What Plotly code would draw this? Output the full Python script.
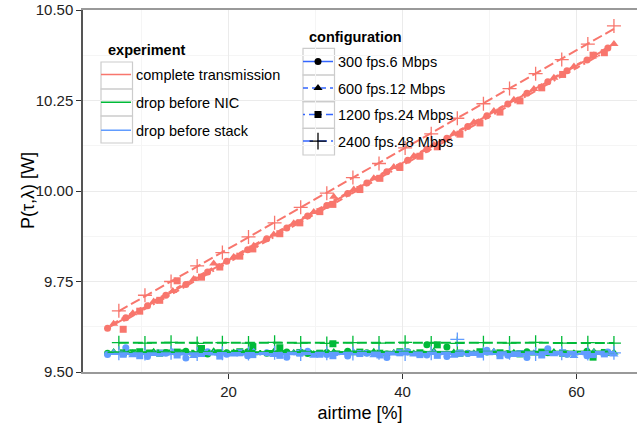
import numpy as np
import plotly.graph_objects as go

# ---------------- data ----------------
experiments = ["complete transmission", "drop before NIC", "drop before stack"]
configs = ["300 fps.6 Mbps", "600 fps.12 Mbps", "1200 fps.24 Mbps", "2400 fps.48 Mbps"]

x300 = [6.1, 8.2, 10.7, 12.8, 15.1, 17.6, 19.8, 22.2, 24.4, 26.7, 29.1, 31.3, 33.7,
        35.9, 38.2, 40.6, 42.8, 45.1, 47.5, 49.7, 52.1, 54.3, 56.7, 58.9, 61.2, 63.6]
red300 = [9.621, 9.650, 9.683, 9.712, 9.742, 9.776, 9.806, 9.838, 9.868, 9.898, 9.931, 9.960, 9.993,
          10.022, 10.053, 10.085, 10.115, 10.146, 10.178, 10.208, 10.240, 10.270, 10.302, 10.332, 10.362, 10.395]
green300 = [9.552, 9.556, 9.551, 9.554, 9.557, 9.550, 9.553, 9.556, 9.552, 9.555, 9.551, 9.554, 9.557,
            9.553, 9.550, 9.556, 9.575, 9.569, 9.552, 9.555, 9.551, 9.556, 9.553, 9.550, 9.557, 9.554]
blue300 = [9.548, 9.567, 9.543, 9.552, 9.539, 9.556, 9.549, 9.545, 9.553, 9.541, 9.557, 9.548, 9.544,
           9.552, 9.540, 9.555, 9.547, 9.543, 9.551, 9.560, 9.546, 9.540, 9.564, 9.549, 9.545, 9.555]

x600 = [6.8, 9.0, 11.4, 13.6, 16.0, 18.3, 20.6, 22.9, 25.2, 27.5, 29.8, 32.1, 34.4,
        36.7, 39.0, 41.3, 43.6, 45.9, 48.2, 50.5, 52.8, 55.1, 57.4, 59.7, 62.0, 64.3]
red600 = [9.633, 9.662, 9.695, 9.724, 9.757, 9.800, 9.818, 9.849, 9.880, 9.911, 9.942, 9.984, 10.004,
          10.035, 10.066, 10.097, 10.128, 10.159, 10.190, 10.221, 10.252, 10.282, 10.313, 10.344, 10.375, 10.406]
green600 = [9.555, 9.552, 9.556, 9.553, 9.551, 9.557, 9.554, 9.552, 9.556, 9.553, 9.550, 9.555, 9.552,
            9.556, 9.553, 9.551, 9.557, 9.554, 9.552, 9.556, 9.553, 9.551, 9.555, 9.552, 9.556, 9.554]
blue600 = [9.553, 9.546, 9.550, 9.555, 9.544, 9.551, 9.548, 9.556, 9.547, 9.552, 9.545, 9.550, 9.554,
           9.546, 9.551, 9.548, 9.553, 9.545, 9.550, 9.556, 9.547, 9.552, 9.549, 9.544, 9.553, 9.548]

x1200 = [7.9, 9.8, 12.1, 14.1, 16.9, 19.0, 21.3, 22.8, 25.9, 28.2, 30.5, 32.0, 35.1,
         37.4, 39.7, 42.0, 44.0, 46.6, 48.9, 51.2, 53.5, 56.0, 58.4, 61.9, 63.2]
red1200 = [9.618, 9.668, 9.698, 9.752, 9.762, 9.790, 9.820, 9.840, 9.882, 9.912, 9.943, 9.963, 10.004,
           10.035, 10.065, 10.096, 10.122, 10.157, 10.188, 10.218, 10.249, 10.285, 10.322, 10.375, 10.382]
green1200 = [9.553, 9.556, 9.552, 9.555, 9.565, 9.553, 9.556, 9.570, 9.567, 9.554, 9.552, 9.578, 9.555,
             9.552, 9.556, 9.553, 9.575, 9.552, 9.556, 9.553, 9.550, 9.555, 9.552, 9.541, 9.554]
blue1200 = [9.549, 9.545, 9.552, 9.547, 9.551, 9.544, 9.553, 9.548, 9.546, 9.552, 9.549, 9.545, 9.551,
            9.547, 9.553, 9.548, 9.546, 9.552, 9.549, 9.545, 9.551, 9.547, 9.553, 9.548, 9.550]

x2400 = [7.4, 10.4, 13.4, 16.4, 19.3, 22.3, 25.3, 28.3, 31.3, 34.3, 37.3, 40.3, 43.3,
         46.3, 49.3, 52.3, 55.3, 58.3, 61.3, 64.3]
red2400 = [9.669, 9.712, 9.750, 9.793, 9.830, 9.873, 9.912, 9.955, 9.994, 10.037, 10.076, 10.119, 10.158,
           10.201, 10.241, 10.283, 10.324, 10.363, 10.406, 10.456]
green2400 = [9.581, 9.580, 9.582, 9.579, 9.581, 9.580, 9.582, 9.580, 9.579, 9.581, 9.580, 9.582, 9.580,
             9.579, 9.581, 9.580, 9.582, 9.580, 9.581, 9.580]
blue2400 = [9.552, 9.551, 9.553, 9.550, 9.552, 9.551, 9.553, 9.550, 9.552, 9.551, 9.553, 9.550, 9.552,
            9.590, 9.551, 9.553, 9.550, 9.552, 9.551, 9.553]

x_values = {configs[0]: x300, configs[1]: x600, configs[2]: x1200, configs[3]: x2400}
y_values = {
    experiments[0]: {configs[0]: red300, configs[1]: red600, configs[2]: red1200, configs[3]: red2400},
    experiments[1]: {configs[0]: green300, configs[1]: green600, configs[2]: green1200, configs[3]: green2400},
    experiments[2]: {configs[0]: blue300, configs[1]: blue600, configs[2]: blue1200, configs[3]: blue2400},
}

# ---------------- styles ----------------
colors = {experiments[0]: "#F8766D", experiments[1]: "#00BA38", experiments[2]: "#619CFF"}
symbols = {configs[0]: "circle", configs[1]: "triangle-up", configs[2]: "square", configs[3]: "cross-thin"}
msizes = {configs[0]: 7, configs[1]: 8, configs[2]: 7, configs[3]: 10}
dashes = {configs[0]: "solid", configs[1]: "5px,4px", configs[2]: "2px,4px,7px,4px", configs[3]: "10px,4px"}

FONT = "Liberation Sans, Arial, Helvetica, sans-serif"
W, H = 637, 426
ML, MR, MT, MB = 83, 0, 10, 54
PW, PH = W - ML - MR, H - MT - MB


def xp(px):
    return (px - ML) / PW


def yp(py):
    return (H - MB - py) / PH


fig = go.Figure()

# points
for exp in experiments:
    for cfg in configs:
        sym = symbols[cfg]
        marker = dict(symbol=sym, size=msizes[cfg], color=colors[exp])
        if sym == "cross-thin":
            marker["line"] = dict(color=colors[exp], width=1.3)
        else:
            marker["line"] = dict(width=0)
        fig.add_trace(go.Scatter(x=x_values[cfg], y=y_values[exp][cfg], mode="markers",
                                 marker=marker, showlegend=False, hoverinfo="skip"))

# linear fits
for exp in experiments:
    for cfg in configs:
        xs = np.array(x_values[cfg])
        ys = np.array(y_values[exp][cfg])
        k, b = np.polyfit(xs, ys, 1)
        xl = np.array([xs.min(), xs.max()])
        fig.add_trace(go.Scatter(x=xl, y=k * xl + b, mode="lines",
                                 line=dict(color=colors[exp], width=2, dash=dashes[cfg]),
                                 showlegend=False, hoverinfo="skip"))

# legend entries (no data)
for exp in experiments:
    fig.add_trace(go.Scatter(x=[None], y=[None], mode="lines", name=exp,
                             line=dict(color=colors[exp], width=1.5),
                             legend="legend", legendgroup=exp, showlegend=True))
for cfg in configs:
    sym = symbols[cfg]
    marker = dict(symbol=sym, size=msizes[cfg], color="black")
    if sym == "cross-thin":
        marker["line"] = dict(color="black", width=1.3)
        marker["size"] = 12
    fig.add_trace(go.Scatter(x=[None], y=[None], mode="lines+markers", name=cfg,
                             line=dict(color="#3366FF", width=1.5, dash=dashes[cfg]),
                             marker=marker, legend="legend2", legendgroup=cfg, showlegend=True))

legend_common = dict(font=dict(family=FONT, size=14.5, color="black"), bgcolor="rgba(0,0,0,0)",
                     itemwidth=30, xanchor="left", yanchor="top")

shapes = [
    # white backgrounds behind the legends (hide gridlines only)
    dict(type="rect", xref="paper", yref="paper", x0=xp(97), x1=xp(292), y0=yp(146), y1=yp(38),
         fillcolor="white", line=dict(width=0), layer="between"),
    dict(type="rect", xref="paper", yref="paper", x0=xp(298), x1=xp(462), y0=yp(160), y1=yp(26),
         fillcolor="white", line=dict(width=0), layer="between"),
]
# legend key boxes
exp_rows = [62, 89, 116, 143]
for i in range(3):
    shapes.append(dict(type="rect", xref="paper", yref="paper", x0=xp(101), x1=xp(132.5),
                       y0=yp(exp_rows[i + 1]), y1=yp(exp_rows[i]),
                       line=dict(color="#CCCCCC", width=1.2), fillcolor="rgba(0,0,0,0)", layer="between"))
cfg_rows = [48.3, 75, 101.7, 128.3, 155]
for i in range(4):
    shapes.append(dict(type="rect", xref="paper", yref="paper", x0=xp(303), x1=xp(334.5),
                       y0=yp(cfg_rows[i + 1]), y1=yp(cfg_rows[i]),
                       line=dict(color="#CCCCCC", width=1.2), fillcolor="rgba(0,0,0,0)", layer="between"))

annotations = [
    dict(text="<b>experiment</b>", xref="paper", yref="paper", x=xp(106), y=yp(50),
         xanchor="left", yanchor="middle", showarrow=False,
         font=dict(family=FONT, size=14.5, color="black")),
    dict(text="<b>configuration</b>", xref="paper", yref="paper", x=xp(307), y=yp(37),
         xanchor="left", yanchor="middle", showarrow=False,
         font=dict(family=FONT, size=14.5, color="black")),
    dict(text="P(τ,λ) [W]", xref="paper", yref="paper", x=xp(28), y=yp(191),
         xanchor="center", yanchor="middle", textangle=-90, showarrow=False,
         font=dict(family=FONT, size=18, color="black")),
]

fig.update_layout(
    width=W, height=H,
    margin=dict(l=ML, r=MR, t=MT, b=MB, pad=0),
    paper_bgcolor="white", plot_bgcolor="white",
    font=dict(family=FONT, color="black"),
    legend=dict(x=xp(96), y=yp(58.5), tracegroupgap=6, **legend_common),
    legend2=dict(x=xp(298), y=yp(45.5), tracegroupgap=4.7, **legend_common),
    shapes=shapes, annotations=annotations,
)

fig.update_xaxes(
    range=[3.28, 66.95], tickvals=[20, 40, 60], ticks="outside", ticklen=5, tickcolor="#333",
    tickfont=dict(family=FONT, size=15, color="#222"),
    showgrid=True, gridcolor="#EBEBEB", gridwidth=1,
    minor=dict(tickvals=[10, 30, 50], showgrid=True, gridcolor="#F5F5F5", gridwidth=1, ticks=""),
    showline=True, linecolor="#999", linewidth=1.5, mirror=True, zeroline=False,
    title=dict(text="airtime [%]", font=dict(family=FONT, size=18, color="black"), standoff=8),
)
fig.update_yaxes(
    range=[9.5, 10.5], tickvals=[9.5, 9.75, 10.0, 10.25, 10.5], tickformat=".2f",
    ticks="outside", ticklen=5, tickcolor="#333",
    tickfont=dict(family=FONT, size=15, color="#222"),
    showgrid=True, gridcolor="#EBEBEB", gridwidth=1,
    minor=dict(tickvals=[9.625, 9.875, 10.125, 10.375], showgrid=True, gridcolor="#F5F5F5", gridwidth=1, ticks=""),
    showline=True, linecolor="#555", linewidth=1.5, zeroline=False,
)

fig.write_html("out.html")
